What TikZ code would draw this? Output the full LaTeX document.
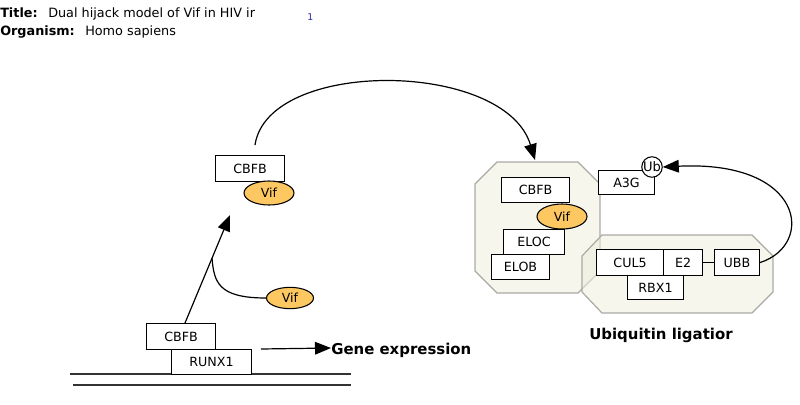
\documentclass[tikz,border=0pt]{standalone}
\usepackage{fontspec}
\setmainfont{DejaVu Sans}
\usetikzlibrary{shapes.geometric,arrows.meta}
\definecolor{vifcol}{RGB}{253,199,97}
\definecolor{grpfill}{RGB}{238,238,220}
\definecolor{grpline}{RGB}{170,170,165}
\definecolor{numblue}{RGB}{40,40,170}
\tikzset{
  gbox/.style={draw=black, fill=white, line width=0.8pt, inner sep=0pt, font=\fontsize{9.5pt}{12pt}\selectfont},
  vif/.style={ellipse, draw=black, fill=vifcol, line width=0.8pt, inner sep=0pt, font=\fontsize{9.4pt}{12pt}\selectfont},
  grp/.style={draw=grpline, fill=grpfill, fill opacity=0.55, line width=0.9pt},
  conn/.style={line width=0.9pt, black},
  arr/.style={conn, -{Triangle[length=12pt, width=9.5pt]}},
  lbl/.style={font=\bfseries\fontsize{11.2pt}{13pt}\selectfont, inner sep=0pt},
  hdr/.style={anchor=base west, inner sep=0pt, font=\fontsize{9.6pt}{12pt}\selectfont},
  hdrb/.style={anchor=base west, inner sep=0pt, font=\bfseries\fontsize{9.6pt}{12pt}\selectfont}
}
\begin{document}
\begin{tikzpicture}[x=0.75pt, y=-0.75pt]
\useasboundingbox (0,0) rectangle (800,404);
% header
\node[hdrb] (tl) at (0,17) {Title:};
\node[hdr] (tt) at (48,17) {Dual hijack model of Vif in HIV ir};
\node[hdrb] (ol) at (0,35) {Organism:};
\node[hdr] (ot) at (85,35) {Homo sapiens};
\node[anchor=base west, inner sep=0pt, text=numblue, font=\fontsize{7pt}{8pt}\selectfont] (num) at (307,20) {1};

% groups
\draw[grp] (497,162) -- (578,162) -- (600,184) -- (600,271) -- (578,293) -- (497,293) -- (475,271) -- (475,184) -- cycle;
\draw[grp] (602,235) -- (752,235) -- (773,256) -- (773,292) -- (752,313) -- (602,313) -- (582,292) -- (582,256) -- cycle;

% DNA lines
\draw[line width=0.9pt, black!80] (70,374) coordinate (d1a) -- (351,374) coordinate (d1b);
\draw[line width=0.9pt, black!80] (73,385) coordinate (d2a) -- (351,385) coordinate (d2b);

% left bottom complex
\node[gbox, anchor=north west, minimum width=60pt, minimum height=18.75pt] (runx) at (171,349) {RUNX1};
\node[gbox, anchor=north west, minimum width=51.75pt, minimum height=19.5pt] (cbfb1) at (146,323) {CBFB};

% middle complex
\node[gbox, anchor=north west, minimum width=51.75pt, minimum height=19.5pt] (cbfb2) at (215,155) {CBFB};
\node[vif, minimum width=37.5pt, minimum height=18pt] (vif2) at (269,193) {Vif};
\node[vif, minimum width=35.25pt, minimum height=16pt] (vif1) at (290,298) {Vif};

% right complex 1
\node[gbox, anchor=north west, minimum width=51pt, minimum height=18.75pt] (cbfb3) at (501,177) {CBFB};
\node[vif, minimum width=37.5pt, minimum height=18.75pt] (vif3) at (562,216.5) {Vif};
\node[gbox, anchor=north west, minimum width=45.75pt, minimum height=18.75pt] (eloc) at (503,229) {ELOC};
\node[gbox, anchor=north west, minimum width=43.5pt, minimum height=18.75pt] (elob) at (491,254) {ELOB};

% right complex 2
\node[gbox, anchor=north west, minimum width=42pt, minimum height=18pt] (a3g) at (598,170) {A3G};
\node[circle, draw=black, fill=white, line width=0.8pt, inner sep=0pt, minimum size=15pt, font=\fontsize{9.8pt}{12pt}\selectfont] (ub) at (652,167) {Ub};
\node[gbox, anchor=north west, minimum width=50.25pt, minimum height=19.5pt] (cul5) at (596,249) {CUL5};
\node[gbox, anchor=north west, minimum width=29.25pt, minimum height=19.5pt] (e2) at (663,249) {E2};
\node[gbox, anchor=north west, minimum width=42pt, minimum height=18pt] (rbx1) at (627,275) {RBX1};
\node[gbox, anchor=north west, minimum width=33.75pt, minimum height=19.5pt] (ubb) at (714,249) {UBB};
\draw[conn] (e2.east) -- (ubb.west);

% labels
\node[lbl, anchor=base west] (gene) at (331,354) {Gene expression};
\node[lbl, anchor=base west] (ubl) at (589,339) {Ubiquitin ligatior};

% connectors
\coordinate (tip1) at (230,215);
\coordinate (j1) at (212,258);
\draw[arr] (cbfb1.north -| 185,0) -- (tip1);
\draw[conn] (vif1.west) .. controls (218,298) and (214,282) .. (j1);
\coordinate (bigstart) at (255,145);
\coordinate (bigend) at (535,160);
\draw[arr] (bigstart) .. controls (268,58) and (505,60) .. (bigend);
\coordinate (gstart) at (261,349);
\draw[arr] (gstart) -- (gene.west |- 0,348);
\draw[arr] (ubb.east) .. controls (815,245) and (805,160) .. (ub.east);
\end{tikzpicture}
\end{document}
